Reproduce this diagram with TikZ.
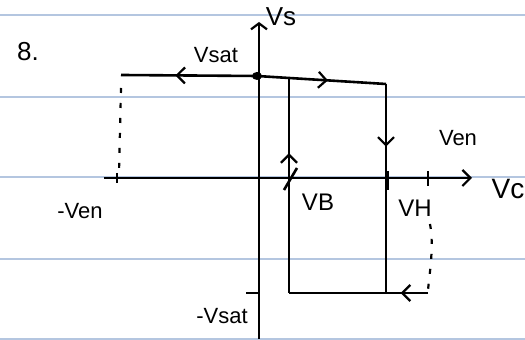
\documentclass[tikz,border=0pt]{standalone}
\usepackage{fontspec}
\setmainfont{Liberation Sans}
\usetikzlibrary{arrows.meta,decorations.markings}
\begin{document}
\begin{tikzpicture}[x=0.5pt,y=-0.5pt,
  ink/.style={line width=1.3pt,black},
  rule/.style={line width=0.6pt,color={rgb,255:red,180;green,198;blue,224}},
  lbl/.style={font=\fontsize{11}{13}\selectfont,inner sep=0pt},
  dots/.style={line width=1.1pt,dash pattern=on 2.5pt off 5pt},
  midarrow/.style={postaction={decorate},decoration={markings,
    mark=at position #1 with {\arrow{Straight Barb[length=4pt,width=8pt,line width=1.1pt]}}}},
  pt/.style={inner sep=0pt,minimum size=0pt}]
\useasboundingbox (0,0) rectangle (525,340);
% ruled paper lines
\foreach \yy in {15,97,177,259,339} \draw[rule] (0,\yy) -- (525,\yy);
% corner coordinates
\coordinate (tl) at (121,75);
\coordinate (tm) at (257,76);
\coordinate (tj) at (289,78);
\coordinate (tr) at (386,84);
\coordinate (br) at (386,293);
\coordinate (bl) at (289,293);
\coordinate (be) at (428,293);
\coordinate (xa) at (104,178);
\coordinate (xb) at (472,178);
\coordinate (ya) at (259,339);
\coordinate (yb) at (259,22);
% axes
\draw[ink,-{Straight Barb[length=4pt,width=8pt,line width=1.1pt]}] (xa) -- (xb);
\draw[ink,-{Straight Barb[length=3pt,width=8pt,line width=1.1pt]}] (ya) -- (yb);
% ticks
\coordinate (t1a) at (117,173); \coordinate (t1b) at (117,183);
\draw[ink] (t1a) -- (t1b);
\coordinate (t2a) at (284,190); \coordinate (t2b) at (297,168);
\draw[ink] (t2a) -- (t2b);
\coordinate (t3a) at (387,171); \coordinate (t3b) at (387,190);
\draw[line width=2.2pt] (t3a) -- (t3b);
\coordinate (t4a) at (428,171); \coordinate (t4b) at (428,186);
\draw[ink] (t4a) -- (t4b);
\coordinate (t5a) at (246,293); \coordinate (t5b) at (260,293);
\draw[ink] (t5a) -- (t5b);
% hysteresis loop
\draw[ink,midarrow=0.6] (tm) -- (tl);
\draw[ink,midarrow=0.55] (tm) -- (tr);
\draw[ink,midarrow=0.3] (tr) -- (br);
\draw[ink,midarrow=0.65] (bl) -- (tj);
\draw[ink] (bl) -- (br);
\draw[ink,midarrow=0.65] (be) -- (br);
\fill (tm) ellipse (5 and 4);
% dotted guides
\coordinate (d1a) at (121,88); \coordinate (d1b) at (119,172);
\draw[dots] (d1a) -- (d1b);
\coordinate (d2a) at (430,224); \coordinate (d2b) at (428,290);
\draw[dots] (d2a) .. controls (434,245) and (430,270) .. (d2b);
% labels
\node[lbl,font=\fontsize{13}{15}\selectfont] (n8) at (28,52) {8.};
\node[lbl,font=\fontsize{13}{15}\selectfont] (vs) at (281,17) {Vs};
\node[lbl] (vsat) at (216,55) {Vsat};
\node[lbl] (ven) at (458,138) {Ven};
\node[lbl,font=\fontsize{14}{16}\selectfont] (vc) at (508,189) {Vc};
\node[lbl] (mven) at (80,211) {-Ven};
\node[lbl,font=\fontsize{12}{14}\selectfont] (vbl) at (318,202) {VB};
\node[lbl,font=\fontsize{12}{14}\selectfont] (vhl) at (415,208) {VH};
\node[lbl] (mvsat) at (222,316) {-Vsat};
\end{tikzpicture}
\end{document}
